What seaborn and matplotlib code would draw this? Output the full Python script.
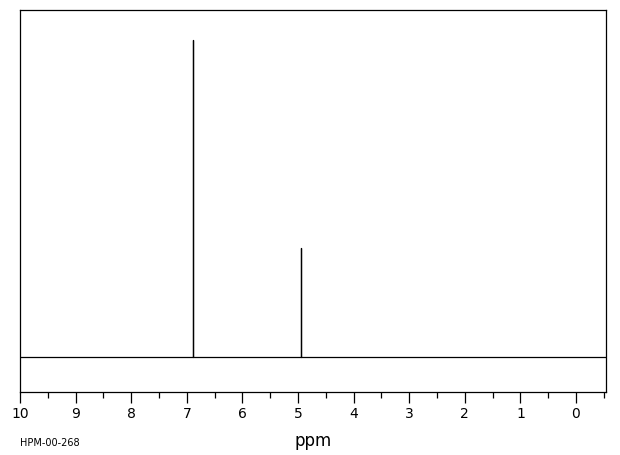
import matplotlib
matplotlib.use("Agg")
import matplotlib.pyplot as plt
from matplotlib.ticker import MultipleLocator
import seaborn as sns

# Peak data (chemical shift in ppm, relative intensity)
shifts = [6.88, 4.95]
intensities = [100.0, 34.4]
x_range = [10.0, -0.54]
spectrum_id = "HPM-00-268"

# Build a stick spectrum: baseline with vertical lines at each peak
xs, ys = [x_range[0] + 0.1], [0.0]
for s, h in zip(shifts, intensities):
    xs += [s, s, s]
    ys += [0.0, h, 0.0]
xs.append(x_range[1] - 0.1)
ys.append(0.0)

sns.set_style("white")
plt.rcParams["font.family"] = ["DejaVu Sans"]
plt.rcParams["text.color"] = "black"
plt.rcParams["xtick.color"] = "black"
plt.rcParams["axes.labelcolor"] = "black"

fig = plt.figure(figsize=(6.2, 4.55), dpi=100)
ax = fig.add_axes([20 / 620, 63 / 455, 586 / 620, 382 / 455])

sns.lineplot(x=xs, y=ys, sort=False, estimator=None, color="black",
             linewidth=0.9, ax=ax)

ax.set_xlim(x_range[0], x_range[1])
ax.set_ylim(-11.0, 109.5)
ax.set_yticks([])
ax.xaxis.set_major_locator(MultipleLocator(1))
ax.xaxis.set_minor_locator(MultipleLocator(0.5))
ax.tick_params(axis="x", which="major", direction="out", length=8,
               width=0.9, labelsize=10, pad=3, bottom=True, color="black",
               labelcolor="black")
ax.tick_params(axis="x", which="minor", direction="out", length=4.5,
               width=0.9, bottom=True, color="black")
for sp in ax.spines.values():
    sp.set_color("black")
    sp.set_linewidth(0.9)

ax.set_xlabel("ppm", fontsize=12, labelpad=8, color="black")
fig.text(20 / 620, 1 - 443 / 455, spectrum_id, fontsize=7, va="center",
         ha="left", color="black")

fig.savefig("out.png", dpi=100)
